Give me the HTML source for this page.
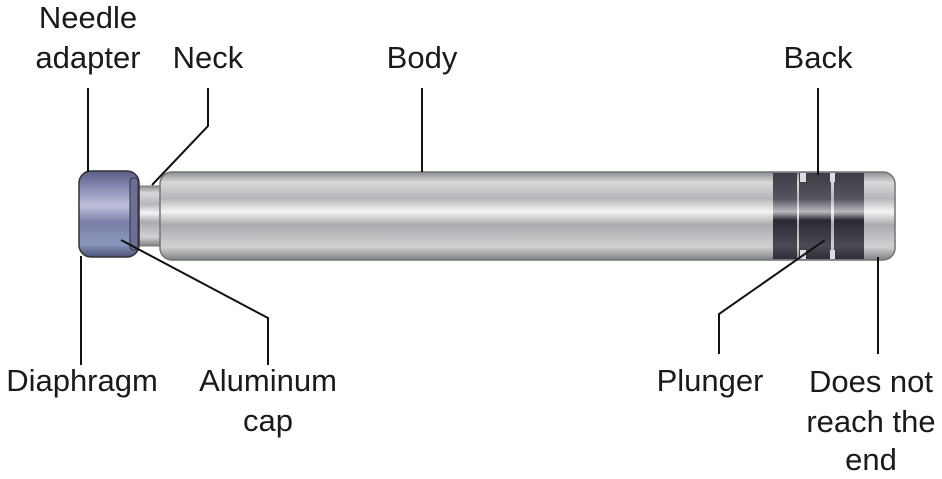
<!DOCTYPE html>
<html><head><style>html,body{margin:0;padding:0;background:#fff}svg{display:block}</style></head>
<body>
<svg width="942" height="479" viewBox="0 0 942 479" xmlns="http://www.w3.org/2000/svg" font-family="Liberation Sans, sans-serif" font-size="31" fill="#1a1a1a">
<defs>
<linearGradient id="g" x1="0" y1="0" x2="0" y2="1">
<stop offset="0" stop-color="#8a8d90"/><stop offset="0.12" stop-color="#d8d9db"/><stop offset="0.3" stop-color="#b4b6b9"/><stop offset="0.45" stop-color="#f4f4f5"/><stop offset="0.6" stop-color="#a9abae"/><stop offset="0.85" stop-color="#d0d1d3"/><stop offset="1" stop-color="#7d8083"/>
</linearGradient>
<linearGradient id="b" x1="0" y1="0" x2="0" y2="1">
<stop offset="0" stop-color="#5b5e86"/><stop offset="0.2" stop-color="#8a8cb5"/><stop offset="0.4" stop-color="#bfc0dc"/><stop offset="0.6" stop-color="#7b7ea6"/><stop offset="0.85" stop-color="#8b98bd"/><stop offset="1" stop-color="#4c5078"/>
</linearGradient>
<linearGradient id="p" x1="0" y1="0" x2="0" y2="1">
<stop offset="0" stop-color="#3c3c45"/><stop offset="0.3" stop-color="#55555f"/><stop offset="0.45" stop-color="#b9b9bf"/><stop offset="0.55" stop-color="#2a2a33"/><stop offset="0.85" stop-color="#4a4a55"/><stop offset="1" stop-color="#2e2e38"/>
</linearGradient>
</defs>
<rect x="136" y="186" width="30" height="60" fill="url(#g)" stroke="#777" stroke-width="1"/>
<rect x="160" y="172" width="735" height="88" rx="12" fill="url(#g)" stroke="#6f7477" stroke-width="1.5"/>
<rect x="773" y="173" width="24" height="86" fill="url(#p)"/>
<rect x="799" y="173" width="32" height="86" fill="url(#p)"/>
<rect x="834" y="173" width="30" height="86" fill="url(#p)"/>
<rect x="800" y="173" width="6" height="9" fill="#ddd"/>
<rect x="830" y="173" width="5" height="9" fill="#ddd"/>
<rect x="800" y="250" width="6" height="9" fill="#ddd"/>
<rect x="830" y="250" width="5" height="9" fill="#ddd"/>
<rect x="79" y="171" width="60" height="86" rx="12" fill="url(#b)" stroke="#333" stroke-width="1.5"/>
<rect x="130" y="178" width="8" height="72" rx="3" fill="#6d6f96" stroke="#333" stroke-width="1"/>
<g stroke="#111" stroke-width="2" fill="none">
<line x1="88" y1="88" x2="88" y2="172"/>
<polyline points="208,88 208,126 152,185"/>
<line x1="422" y1="88" x2="422" y2="172"/>
<line x1="818" y1="88" x2="818" y2="175"/>
<line x1="81" y1="256" x2="81" y2="365"/>
<polyline points="121,240 268,318 268,365"/>
<polyline points="825,240 719,314 719,354"/>
<line x1="878" y1="257" x2="878" y2="354"/>
</g>
<g text-anchor="middle">
<text x="88" y="28">Needle</text>
<text x="88" y="68">adapter</text>
<text x="208" y="68">Neck</text>
<text x="422" y="68">Body</text>
<text x="818" y="68">Back</text>
<text x="82" y="391">Diaphragm</text>
<text x="268" y="391">Aluminum</text>
<text x="268" y="431">cap</text>
<text x="710" y="391">Plunger</text>
<text x="871" y="392">Does not</text>
<text x="871" y="432">reach the</text>
<text x="871" y="470">end</text>
</g>
</svg>
</body></html>
